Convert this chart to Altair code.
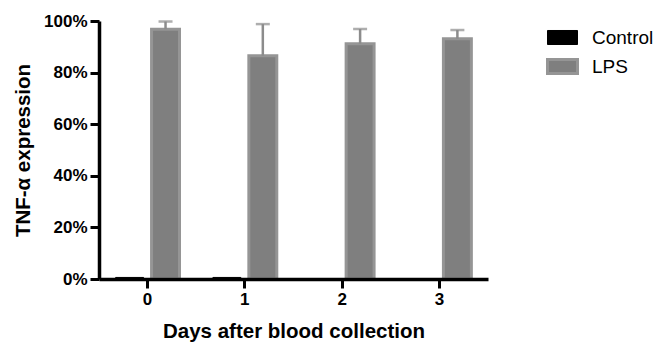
import altair as alt
import pandas as pd

days = ["0", "1", "2", "3"]
groups = ["Control", "LPS"]
control = [0.006, 0.006, 0.001, 0.001]
lps = [0.968, 0.865, 0.912, 0.931]
lps_upper = [0.998, 0.988, 0.969, 0.965]
y_ticks = [0, 0.2, 0.4, 0.6, 0.8, 1.0]

rows = []
for d, c in zip(days, control):
    rows.append({"day": d, "group": "Control", "value": c})
for d, v in zip(days, lps):
    rows.append({"day": d, "group": "LPS", "value": v})
bars_df = pd.DataFrame(rows)
err_df = pd.DataFrame({"day": days, "group": ["LPS"] * 4, "value": lps, "upper": lps_upper})

FONT = "Liberation Sans"

x_enc = alt.X("day:N", sort=days,
              scale=alt.Scale(paddingInner=0.2615, paddingOuter=0.13),
              axis=alt.Axis(title="Days after blood collection", labelAngle=0,
                            labelFont=FONT, labelFontSize=17, labelFontWeight="bold",
                            labelColor="black", labelPadding=3,
                            titleFont=FONT, titleFontSize=20.5, titleFontWeight="bold",
                            titleColor="black", titleX=194.5, titleY=58,
                            titleBaseline="alphabetic", titleAlign="center",
                            domainColor="black", domainWidth=3.5,
                            tickColor="black", tickWidth=3, tickSize=9, zindex=1))
xoff = alt.XOffset("group:N", sort=groups,
                   scale=alt.Scale(paddingInner=0.222, paddingOuter=0.111))

y_axis = alt.Axis(title="TNF-α expression", values=y_ticks, format=".0%",
                  labelFont=FONT, labelFontSize=17, labelFontWeight="bold",
                  labelColor="black", labelPadding=3,
                  titleFont=FONT, titleFontSize=20.5, titleFontWeight="bold",
                  titleColor="black", titleX=-70, titleY=129, titleAngle=-90,
                  titleBaseline="alphabetic", titleAlign="center",
                  domainColor="black", domainWidth=3.5,
                  tickColor="black", tickWidth=3, tickSize=9, grid=False, zindex=1)

bars = alt.Chart(bars_df).mark_bar(strokeJoin="miter").encode(
    x=x_enc,
    xOffset=xoff,
    y=alt.Y("value:Q", scale=alt.Scale(domain=[0, 1], nice=False), axis=y_axis),
    color=alt.Color("group:N", sort=groups,
                    scale=alt.Scale(domain=groups, range=["#000000", "#7f7f7f"]),
                    legend=alt.Legend(title=None, orient="none", legendX=447, legendY=1,
                                      symbolType="M-1,-0.467L1,-0.467L1,0.467L-1,0.467Z",
                                      symbolSize=900, symbolStrokeWidth=3,
                                      labelFont=FONT, labelFontSize=19, labelColor="black",
                                      labelOffset=13, rowPadding=2)),
    stroke=alt.Stroke("group:N", sort=groups,
                      scale=alt.Scale(domain=groups, range=["#000000", "#959595"]),
                      legend=None),
    strokeWidth=alt.StrokeWidth("group:N", scale=alt.Scale(domain=groups, range=[1, 3]),
                                legend=None),
)

rule = alt.Chart(err_df).mark_rule(color="#8c8c8c", strokeWidth=2.5).encode(
    x=alt.X("day:N", sort=days),
    xOffset=alt.XOffset("group:N", sort=groups),
    y="value:Q",
    y2="upper:Q",
)
cap = alt.Chart(err_df).mark_tick(color="#8c8c8c", thickness=2.5, size=14).encode(
    x=alt.X("day:N", sort=days),
    xOffset=alt.XOffset("group:N", sort=groups),
    y="upper:Q",
)

chart = alt.layer(bars, rule, cap).properties(
    width=389, height=258,
    autosize=alt.AutoSizeParams(type="none"),
    padding={"left": 99, "top": 21, "right": 172, "bottom": 63},
).configure_view(stroke=None)

chart.save("out.html", embed_options={"renderer": "svg", "actions": False})
